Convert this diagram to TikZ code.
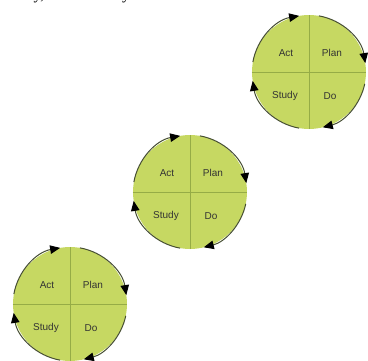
\documentclass[tikz,border=0pt]{standalone}
\usepackage{fontspec}
\setmainfont{Liberation Serif}
\newfontfamily\labelfont{Liberation Sans}
\usetikzlibrary{arrows.meta}
\definecolor{pdsafill}{RGB}{198,216,98}
\definecolor{pdsaedge}{RGB}{70,78,50}
\definecolor{pdsadiv}{RGB}{150,172,70}
\tikzset{
  disc/.style={circle, fill=pdsafill, inner sep=0pt, outer sep=0pt, minimum size=114pt},
  divider/.style={draw=pdsadiv, line width=0.8pt},
  cyclearc/.style={draw=pdsaedge, line width=1pt, -{Triangle[length=10pt,width=8.5pt,color=black]}},
  lbl/.style={font=\labelfont\fontsize{10}{12}\selectfont, text=black!80, inner sep=0pt},
  pdsa/.pic={
    \node[disc] (c) at (0,0) {};
    \draw[divider] (c.north) -- (c.south);
    \draw[divider] (c.west) -- (c.east);
    \draw[cyclearc] (c.80) arc[start angle=80, end angle=9, radius=57pt];
    \draw[cyclearc] (c.-12) arc[start angle=-12, end angle=-76, radius=57pt];
    \draw[cyclearc] (c.-100) arc[start angle=-100, end angle=-171, radius=57pt];
    \draw[cyclearc] (c.170) arc[start angle=170, end angle=100, radius=57pt];
    \node[lbl] (act) at (-23,19) {Act};
    \node[lbl] (plan) at (23,19) {Plan};
    \node[lbl] (study) at (-24,-24) {Study};
    \node[lbl] (do) at (21,-24) {Do};
  }
}
\begin{document}
\begin{tikzpicture}[x=1pt,y=1pt]
  \clip (0,0) rectangle (368,360);
  \fill[white] (0,0) rectangle (368,360);
  \node[anchor=base, inner sep=0pt, font=\fontsize{16}{18}\selectfont] (frag1) at (39,361) {y,};
  \node[anchor=base, inner sep=0pt, font=\fontsize{16}{18}\selectfont] (frag2) at (126,361) {y};
  \pic (p1) at (309,288) {pdsa};
  \pic (p2) at (190,168) {pdsa};
  \pic (p3) at (70,56) {pdsa};
\end{tikzpicture}
\end{document}
